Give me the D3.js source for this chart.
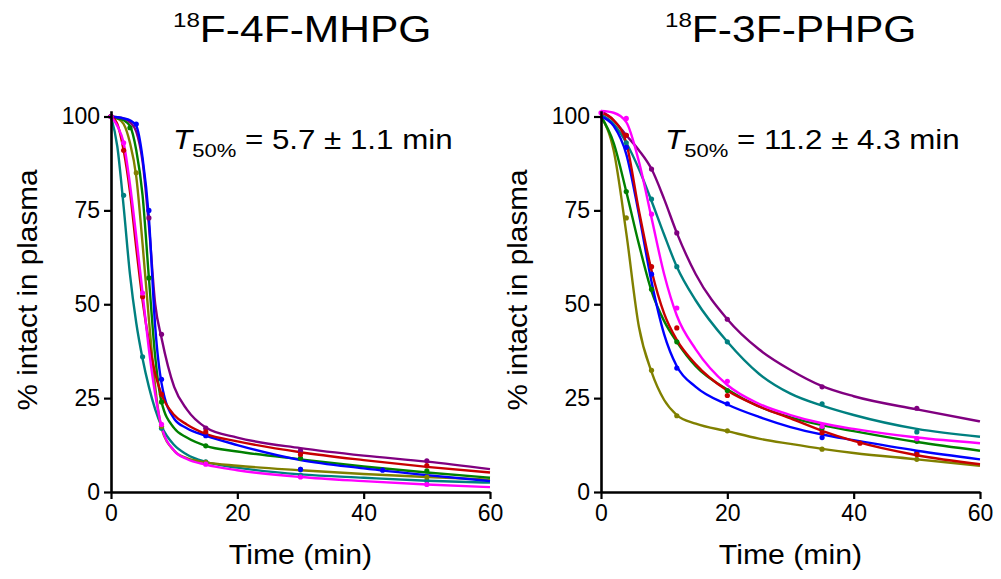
<!DOCTYPE html>
<html>
<head>
<meta charset="utf-8">
<script src="https://cdn.jsdelivr.net/npm/d3@7"></script>
<style>
  body { margin: 0; background: #fff; }
  text { font-family: "Liberation Sans", Arial, sans-serif; fill: #000; white-space: pre; }
</style>
</head>
<body>
<div class="chart"></div>
<script>
// ---- data ----
const timeTicks = [0, 20, 40, 60]
const pctTicks = [0, 25, 50, 75, 100]

const seriesNames = ['teal', 'olive', 'green', 'purple', 'blue', 'red', 'magenta']
const seriesColors = ['#008080', '#808000', '#008000', '#800080', '#0000ff', '#c80000', '#ff00ff']

// 18F-4F-MHPG, fitted curves (sampled)
const mhpgFitTimes = [0, 1, 2, 3, 4, 5, 6, 7, 8, 10, 12, 15, 20, 30, 40, 50, 60]
const mhpgFitTeal    = [100, 92, 76, 58, 45, 35.5, 28, 22, 17.5, 12.5, 10, 8, 6.5, 4.7, 3.8, 3.0, 2.5]
const mhpgFitOlive   = [100, 99.5, 98, 93, 84, 66, 46, 28, 17, 11, 9, 7.9, 7, 5.8, 4.8, 4.0, 3.3]
const mhpgFitGreen   = [100, 99.5, 99, 97.5, 91, 79, 57, 36, 24, 17, 14.5, 12.3, 10.8, 8.7, 6.8, 5.2, 3.8]
const mhpgFitPurple  = [100, 99.8, 99.5, 98.5, 96, 88, 71, 50, 41, 28, 22, 17.2, 14.5, 11.7, 9.7, 8.1, 6.1]
const mhpgFitBlue    = [100, 99.8, 99.5, 99, 97.5, 89, 73, 44, 29, 19.5, 17, 15, 12.5, 8.5, 6.3, 4.5, 2.9]
const mhpgFitRed     = [100, 98, 91, 80, 65, 51, 40, 31.5, 26, 20.5, 18, 15.5, 13.5, 10.6, 8.5, 6.7, 5.2]
const mhpgFitMagenta = [100, 97.5, 93, 82, 68, 53, 38, 26, 17.5, 11, 8.8, 7.3, 5.8, 4.0, 2.9, 2.0, 1.3]

// 18F-4F-MHPG, measured samples
const mhpgPtsTeal    = [[0, 100], [2, 79], [5, 36], [8, 17], [15, 8], [30, 4.5], [50, 3]]
const mhpgPtsOlive   = [[0, 100], [4, 85], [8, 17.5], [15, 7.9], [30, 6], [50, 4]]
const mhpgPtsGreen   = [[0, 100], [3, 97], [6, 57], [8, 24], [15, 12.3], [30, 9], [50, 5.6]]
const mhpgPtsPurple  = [[0, 100], [6, 73], [8, 42], [15, 17], [30, 11], [50, 8.3]]
const mhpgPtsBlue    = [[0, 100], [4, 98], [6, 75], [8, 30], [15, 15], [30, 6], [43, 5.8]]
const mhpgPtsRed     = [[0, 100], [2, 91], [5, 52], [8, 26], [15, 16], [30, 10], [50, 7]]
const mhpgPtsMagenta = [[0, 100], [2, 93], [5, 53], [8, 18], [15, 7.4], [30, 4], [50, 2]]

// 18F-3F-PHPG, fitted curves (sampled)
const phpgFitTimes = [0, 2, 4, 6, 8, 10, 12, 15, 20, 25, 30, 35, 40, 50, 60]
const phpgFitTeal    = [100.5, 98, 93, 86, 77.5, 68.5, 60, 51, 40, 31.5, 26.2, 23, 20.5, 16.8, 14.7]
const phpgFitOlive   = [100, 91, 69, 44, 32, 24.5, 20.5, 18.2, 16.2, 14.2, 12.8, 11.5, 10.4, 8.7, 7.0]
const phpgFitGreen   = [100, 93, 80, 66, 53.5, 45.5, 40, 33.5, 27.3, 22.8, 19.9, 17.8, 16.2, 13.3, 11]
const phpgFitPurple  = [101.5, 99, 95, 91, 86, 78, 69, 58, 46, 38, 32.5, 28.2, 25.5, 22, 18.8]
const phpgFitBlue    = [100, 97.5, 90, 74, 56, 42, 33.5, 28, 23.3, 20, 17.3, 15.3, 13.8, 11, 8.7]
const phpgFitRed     = [101, 99, 93, 75, 59, 47.5, 40.5, 34, 27, 22.8, 19.6, 16.3, 13.6, 9.8, 7.4]
const phpgFitMagenta = [101.5, 101, 98.5, 88, 73, 58, 47, 38, 28.5, 23.5, 20.5, 18.3, 16.8, 14.5, 13]

// 18F-3F-PHPG, measured samples
const phpgPtsTeal    = [[4, 93], [8, 78], [12, 60], [20, 40], [35, 23.5], [50, 16]]
const phpgPtsOlive   = [[4, 73], [8, 32.4], [12, 20.3], [20, 16.3], [35, 11.4], [50, 8.7]]
const phpgPtsGreen   = [[4, 80], [8, 54], [12, 40], [20, 27], [35, 17], [50, 13.5]]
const phpgPtsPurple  = [[4, 95], [8, 86], [12, 69], [20, 46], [35, 28], [50, 22.3]]
const phpgPtsBlue    = [[4, 91.8], [8, 58], [12, 33], [20, 23.5], [35, 14.5], [50, 10.5]]
const phpgPtsRed     = [[4, 95], [8, 60], [12, 43.7], [20, 25.7], [35, 15.8], [41, 13], [50, 10]]
const phpgPtsMagenta = [[0, 101], [4, 99.5], [8, 74], [12, 49], [20, 29.5], [35, 17.5], [50, 14.2]]

const titles = ['F-4F-MHPG', 'F-3F-PHPG']
const t50Values = ['5.7 \u00b1 1.1 min', '11.2 \u00b1 4.3 min']

// ---- layout ----
const width = 1001
const height = 579

const svg = d3.select('.chart')
  .append('svg')
  .attr('width', width)
  .attr('height', height)

const panels = [
  {
    left: 111, right: 490, titleX: 173, t50X: 173,
    times: mhpgFitTimes,
    fits: [mhpgFitTeal, mhpgFitOlive, mhpgFitGreen, mhpgFitPurple, mhpgFitBlue, mhpgFitRed, mhpgFitMagenta],
    pts: [mhpgPtsTeal, mhpgPtsOlive, mhpgPtsGreen, mhpgPtsPurple, mhpgPtsBlue, mhpgPtsRed, mhpgPtsMagenta]
  },
  {
    left: 601, right: 980, titleX: 665, t50X: 665,
    times: phpgFitTimes,
    fits: [phpgFitTeal, phpgFitOlive, phpgFitGreen, phpgFitPurple, phpgFitBlue, phpgFitRed, phpgFitMagenta],
    pts: [phpgPtsTeal, phpgPtsOlive, phpgPtsGreen, phpgPtsPurple, phpgPtsBlue, phpgPtsRed, phpgPtsMagenta]
  }
]

const yBottom = 492
const yTop100 = 116.5
const yMax = 101.5

function drawPanel(p, i) {

  const x = d3.scaleLinear().domain([0, 60]).range([p.left, p.right])
  const y = d3.scaleLinear().domain([0, 100]).range([yBottom, yTop100])
  const yAxisScale = y.copy().domain([0, yMax]).range([yBottom, y(yMax)])

  const g = svg.append('g').attr('class', 'panel-' + i)

  // curves
  const line = d3.line()
    .x(d => x(d[0]))
    .y(d => y(d[1]))
    .curve(d3.curveMonotoneX)

  p.fits.forEach((vals, k) => {
    const pts = p.times.map((t, j) => [t, vals[j]])
    g.append('path')
      .attr('d', line(pts))
      .attr('fill', 'none')
      .attr('stroke', seriesColors[k])
      .attr('stroke-width', 2.4)
  })

  p.pts.forEach((arr, k) => {
    g.append('g').selectAll('circle')
      .data(arr)
      .enter().append('circle')
        .attr('cx', d => x(d[0]))
        .attr('cy', d => y(d[1]))
        .attr('r', 2.6)
        .attr('fill', seriesColors[k])
  })

  // axes
  const yAxis = g.append('g')
    .attr('transform', `translate(${p.left},0)`)
    .call(d3.axisLeft(yAxisScale).tickValues(pctTicks).tickSize(7).tickSizeOuter(0).tickPadding(4))
  const xAxis = g.append('g')
    .attr('transform', `translate(0,${yBottom})`)
    .call(d3.axisBottom(x).tickValues(timeTicks).tickSize(7).tickSizeOuter(0).tickPadding(6))

  ;[yAxis, xAxis].forEach(a => {
    a.select('.domain').attr('stroke', '#000').attr('stroke-width', 2.6)
    a.selectAll('.tick line').attr('stroke', '#000').attr('stroke-width', 2.2)
    a.selectAll('.tick text')
      .style('font-size', '23px')
      .attr('fill', '#000')
  })

  const cx = (p.left + p.right) / 2

  // axis titles
  g.append('text')
    .attr('transform', `translate(${cx},564) scale(1.12,1)`)
    .attr('text-anchor', 'middle')
    .style('font-size', '27px')
    .text('Time (min)')

  g.append('text')
    .attr('transform', `translate(${p.left - 74},290) rotate(-90) scale(1.1,1)`)
    .attr('text-anchor', 'middle')
    .style('font-size', '27px')
    .text('% intact in plasma')

  // panel title with superscript mass number
  const title = g.append('text')
    .attr('transform', `translate(${p.titleX},42) scale(1.15,1)`)
    .style('font-size', '37px')
  title.append('tspan').attr('dy', -15).style('font-size', '21px').text('18')
  title.append('tspan').attr('dy', 15).text(titles[i])

  // half-life annotation
  const t50 = g.append('text')
    .attr('transform', `translate(${p.t50X},149) scale(1.16,1)`)
    .style('font-size', '27px')
  t50.append('tspan').style('font-style', 'italic').text('T')
  t50.append('tspan').attr('dy', 8).style('font-size', '19px').text('50%')
  t50.append('tspan').attr('dy', -8).text(' = ' + t50Values[i])
}

panels.forEach(drawPanel)
</script>
</body>
</html>
